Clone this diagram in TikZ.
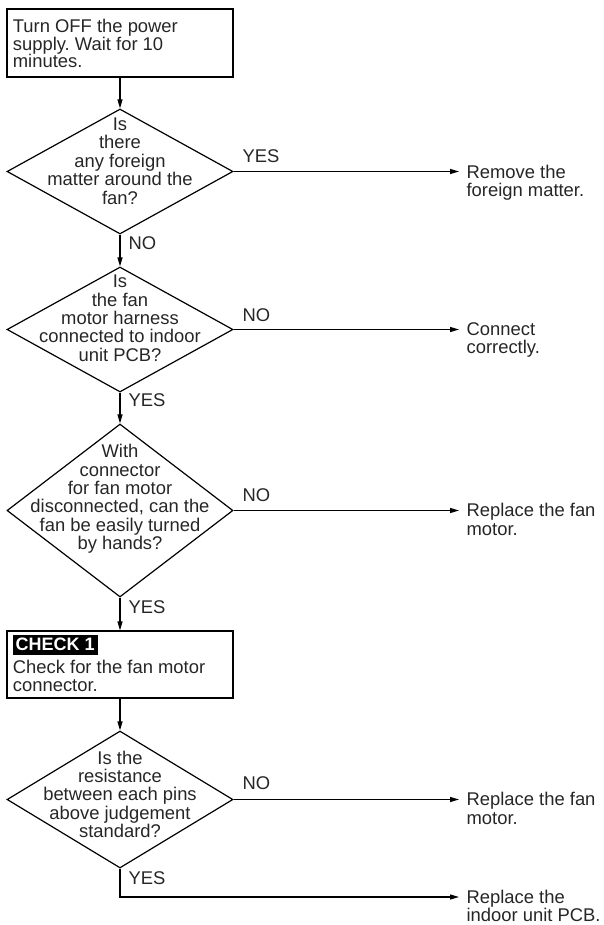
\documentclass[tikz,border=0pt]{standalone}
\usepackage{fontspec}
\setmainfont{Liberation Sans}
\usetikzlibrary{shapes.geometric,arrows.meta}
\frenchspacing
% fixed height for the first line of a text block, so that its top sits a known distance above the first baseline
\newcommand\topline{\rule{0pt}{15pt}}
\begin{document}
\begin{tikzpicture}[x=1pt,y=-1pt,
  line width=1.2pt,
  every node/.style={text=black!85, inner sep=0pt},
  txt/.style={font=\fontsize{18.4}{18.4}\selectfont, align=center, anchor=north},
  boxtxt/.style={font=\fontsize{18.4}{17.8}\selectfont, align=left, anchor=north west},
  restxt/.style={font=\fontsize{18.4}{18.4}\selectfont, align=left, anchor=north west},
  lbl/.style={font=\fontsize{18.4}{18.4}\selectfont, anchor=base west},
  dia/.style={draw=black, diamond, minimum width=226pt},
  stepbox/.style={draw=black, rectangle, minimum width=226pt},
  tag/.style={fill=black, text=white, font=\fontsize{18}{18}\bfseries\selectfont,
    anchor=base west, inner xsep=3pt, text height=15.7pt, text depth=4.3pt},
  arr/.style={-{Triangle[length=9pt,width=5pt]}},
  toresult/.style={arr, shorten >=7pt}]
\useasboundingbox (0,0) rectangle (603,925);

% steps and decisions
\node[stepbox, minimum height=68pt] (b1) at (120,43) {};
\node[boxtxt] (tb1) at (12.3,16.7) {\topline Turn OFF the power\\supply. Wait for 10\\minutes.};

\node[dia, minimum height=125pt] (d1) at (120,171.5) {};
\node[txt] (t1) at (120,115) {\topline Is\\there\\any foreign\\matter around the\\fan?};

\node[dia, minimum height=125pt] (d2) at (120,329.5) {};
\node[txt] (t2) at (120,272) {\topline Is\\the fan\\motor harness\\connected to indoor\\unit PCB?};

\node[dia, minimum height=173pt] (d3) at (120,510.5) {};
\node[txt] (t3) at (120,442) {\topline With\\connector\\for fan motor\\disconnected, can the\\fan be easily turned\\by hands?};

\node[stepbox, minimum height=67pt] (b2) at (120,664.5) {};
\node[tag] (ck) at (12,650.7) {CHECK 1};
\node[boxtxt] (tb2) at (12.3,658.3) {\topline Check for the fan motor\\connector.};

\node[dia, minimum height=137pt] (d4) at (120,799.5) {};
\node[txt] (t4) at (120,748.4) {\topline Is the\\resistance\\between each pins\\above judgement\\standard?};

% results
\node[restxt] (r1) at (466,162.5) {\topline Remove the\\foreign matter.};
\node[restxt] (r2) at (466,319.5) {\topline Connect\\correctly.};
\node[restxt] (r3) at (466,501) {\topline Replace the fan\\motor.};
\node[restxt] (r4) at (466,790) {\topline Replace the fan\\motor.};
\node[restxt] (r5) at (466,887.5) {\topline Replace the\\indoor unit PCB.};

% main flow
\draw[arr] (b1.south) -- (d1.north);
\draw[arr] (d1.south) -- (d2.north);
\draw[arr] (d2.south) -- (d3.north);
\draw[arr] (d3.south) -- (b2.north);
\draw[arr] (b2.south) -- (d4.north);

% branches to results
\draw[toresult] (d1.east) -- (d1.east -| r1.west);
\draw[toresult] (d2.east) -- (d2.east -| r2.west);
\draw[toresult] (d3.east) -- (d3.east -| r3.west);
\draw[toresult] (d4.east) -- (d4.east -| r4.west);
\coordinate (c5) at (120,897);
\draw[toresult] (d4.south) -- (c5) -- (c5 -| r5.west);

% answer labels
\node[lbl] (y1) at (242,163) {YES};
\node[lbl] (n1) at (128,249) {NO};
\node[lbl] (n2) at (242,321) {NO};
\node[lbl] (y2) at (128,406) {YES};
\node[lbl] (n3) at (242,501) {NO};
\node[lbl] (y3) at (128,613) {YES};
\node[lbl] (n4) at (242,789) {NO};
\node[lbl] (y4) at (128,884) {YES};
\end{tikzpicture}
\end{document}
